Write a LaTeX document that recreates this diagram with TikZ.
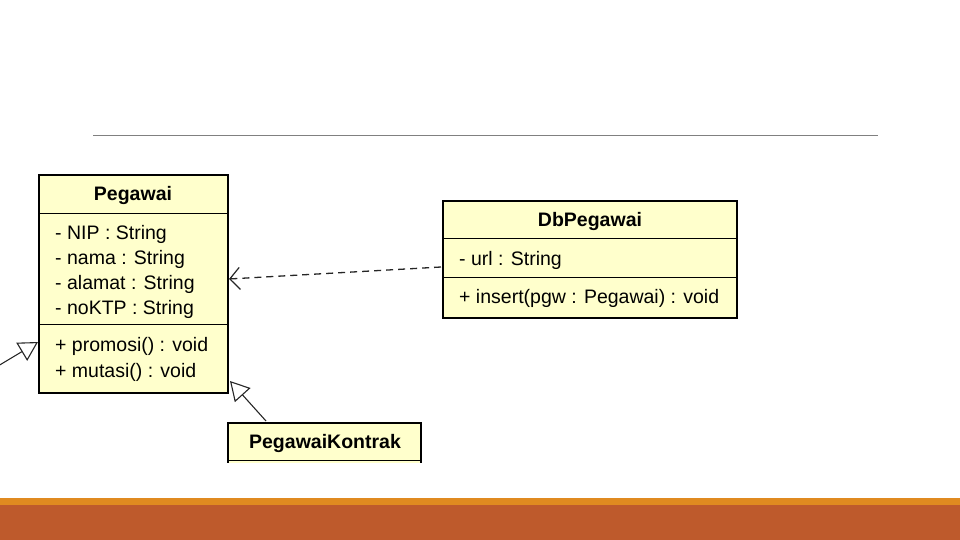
\documentclass[tikz,border=0pt]{standalone}
\usepackage{fontspec}
\setmainfont{Liberation Sans}
\usetikzlibrary{arrows.meta}
\definecolor{umlfill}{RGB}{255,255,204}
\definecolor{stripeA}{RGB}{224,138,32}
\definecolor{stripeB}{RGB}{190,90,44}
\definecolor{rulegray}{RGB}{128,128,128}
\tikzset{
  classbox/.style={draw=black, line width=2.6pt, fill=umlfill, inner sep=0pt, outer sep=0pt, anchor=north west},
  sepline/.style={draw=black, line width=0.9pt},
  hdr/.style={font=\fontsize{19.5}{22}\selectfont\bfseries, inner sep=0pt},
  memb/.style={font=\fontsize{19.5}{22}\selectfont, inner sep=0pt, anchor=west},
  gen/.style={draw=black!85, line width=1.1pt, -{Triangle[open, length=19pt, width=21pt, line width=1.1pt]}},
  dep/.style={draw=black!85, line width=1.3pt, dash pattern=on 7pt off 5pt, -{Straight Barb[length=10pt, width=22pt, line width=1.2pt]}}
}
\begin{document}
\begin{tikzpicture}[x=1pt, y=-1pt]
\useasboundingbox (0,0) rectangle (960,540);
% top rule
\draw[rulegray, line width=1pt] (93,136) -- (878,136);
% bottom stripes
\fill[stripeA] (0,498) rectangle (960,505);
\fill[stripeB] (0,505) rectangle (960,540);

% Pegawai class
\node[classbox, minimum width=189pt, minimum height=218pt] (peg) at (39,175) {};
\draw[sepline] (39,213) -- (228,213);
\draw[sepline] (39,324) -- (228,324);
\node[hdr] (pegH) at (133,196) {Pegawai};
\node[memb] (pegA1) at (55,234) {- NIP : String};
\node[memb] (pegA2) at (55,259) {- nama : String};
\node[memb] (pegA3) at (55,284) {- alamat : String};
\node[memb] (pegA4) at (55,309) {- noKTP : String};
\node[memb] (pegM1) at (55,346) {+ promosi() : void};
\node[memb] (pegM2) at (55,372) {+ mutasi() : void};

% DbPegawai class
\node[classbox, minimum width=294pt, minimum height=117pt] (db) at (443,201) {};
\draw[sepline] (443,238) -- (737,238);
\draw[sepline] (443,277) -- (737,277);
\node[hdr] (dbH) at (590,222) {DbPegawai};
\node[memb] (dbA1) at (459,260) {- url : String};
\node[memb] (dbM1) at (459,298) {+ insert(pgw : Pegawai) : void};

% PegawaiKontrak class (cut off at the bottom)
\begin{scope}
\clip (200,400) rectangle (450,462);
\node[classbox, minimum width=193pt, minimum height=80pt] (pk) at (228,423) {};
\draw[sepline] (228,460) -- (421,460);
\end{scope}
\node[hdr] (pkH) at (325,443) {PegawaiKontrak};

% connectors
\coordinate (dbL) at (441,267);
\coordinate (pegR) at (229,279);
\draw[dep] (dbL) -- (pegR);

\coordinate (offL) at (-2,366);
\coordinate (pegL) at (38,342);
\draw[gen] (offL) -- (pegL);

\coordinate (pkTop) at (266,421);
\coordinate (pegBR) at (230,381);
\draw[gen] (pkTop) -- (pegBR);
\end{tikzpicture}
\end{document}
